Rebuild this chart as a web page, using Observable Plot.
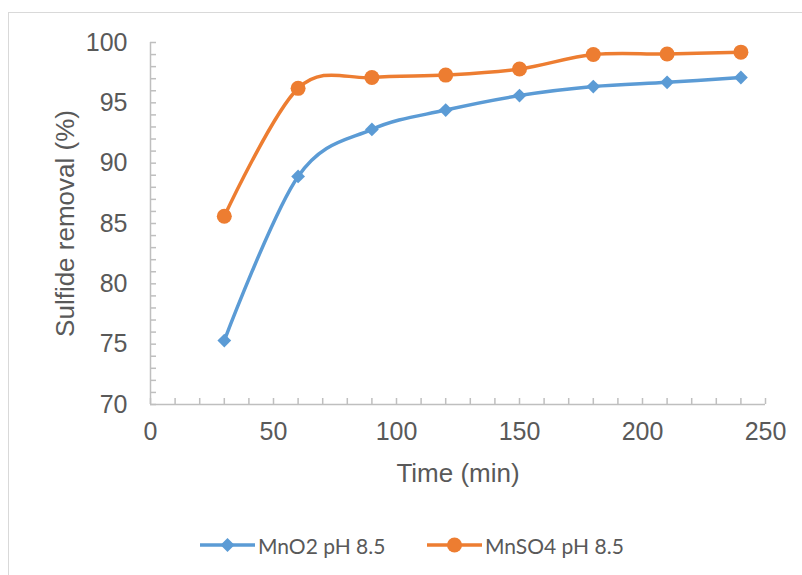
<!DOCTYPE html>
<html>
<head>
<meta charset="utf-8">
<script src="https://cdn.jsdelivr.net/npm/d3@7"></script>
<script src="https://cdn.jsdelivr.net/npm/@observablehq/plot@0.6"></script>
<style>
  html, body { margin: 0; padding: 0; background: #fff; }
  #wrap { position: relative; width: 802px; height: 575px; overflow: hidden; }
  #frame { position: absolute; left: 8px; top: 12px; width: 800px; height: 600px; border: 1.5px solid #d9d9d9; box-sizing: border-box; }
  #chart { position: absolute; left: 0; top: 0; }
  #legend { position: absolute; left: 0; top: 532px; width: 802px; height: 26px; }
  .item { position: absolute; top: 0; height: 26px; display: flex; align-items: center; font-family: Lato, "Liberation Sans", sans-serif; font-size: 21px; color: #595959; }
  .item svg { display: block; margin-right: 2px; }
</style>
</head>
<body>
<div id="wrap">
  <div id="frame"></div>
  <div id="chart"></div>
  <div id="legend"></div>
</div>
<script>
const time = [30, 60, 90, 120, 150, 180, 210, 240];
const mno2 = [75.3, 88.9, 92.8, 94.4, 95.6, 96.35, 96.7, 97.1];
const mnso4 = [85.6, 96.2, 97.1, 97.3, 97.8, 99.0, 99.05, 99.2];
const seriesNames = ["MnO2 pH 8.5", "MnSO4 pH 8.5"];
const seriesColors = ["#5B9BD5", "#ED7D31"];
const xMajor = [0, 50, 100, 150, 200, 250];
const yMajor = [70, 75, 80, 85, 90, 95, 100];
const xMinor = d3.range(0, 251, 10);
const yMinor = d3.range(70, 101, 1);
const xTitle = "Time (min)";
const yTitle = "Sulfide removal (%)";

const rows1 = time.map((t, i) => ({t, v: mno2[i]}));
const rows2 = time.map((t, i) => ({t, v: mnso4[i]}));

const axisColor = "#bfbfbf";
const textColor = "#595959";

const chart = Plot.plot({
  width: 802,
  height: 520,
  marginLeft: 150,
  marginRight: 37,
  marginTop: 42,
  marginBottom: 116,
  style: {fontFamily: "'Liberation Sans', Arial, sans-serif", background: "transparent", color: textColor},
  x: {domain: [0, 250]},
  y: {domain: [70, 100]},
  marks: [
    Plot.axisY(yMinor, {tickSize: -6, fill: "none", stroke: axisColor, label: null, strokeWidth: 1.5}),
    Plot.axisX(xMinor, {tickSize: -6, fill: "none", stroke: axisColor, label: null, strokeWidth: 1.5}),
    Plot.axisY(yMajor, {tickSize: 0, tickPadding: 23, fontSize: 25, fill: textColor, label: null}),
    Plot.axisX(xMajor, {tickSize: 0, tickPadding: 18, fontSize: 25, fill: textColor, label: null}),
    Plot.ruleX([0], {stroke: axisColor, strokeWidth: 1.5}),
    Plot.ruleY([70], {stroke: axisColor, strokeWidth: 1.5}),
    Plot.text([yTitle], {frameAnchor: "left", textAnchor: "middle", lineAnchor: "middle", rotate: -90, dx: -85, fontSize: 26, fill: textColor}),
    Plot.text([xTitle], {frameAnchor: "bottom", textAnchor: "middle", lineAnchor: "middle", dy: 69, fontSize: 26, fill: textColor}),
    Plot.line(rows1, {x: "t", y: "v", stroke: seriesColors[0], strokeWidth: 3.5, curve: "cardinal"}),
    Plot.line(rows2, {x: "t", y: "v", stroke: seriesColors[1], strokeWidth: 3.5, curve: "cardinal"}),
    Plot.dot(rows1, {x: "t", y: "v", symbol: "diamond2", r: 6.2, fill: seriesColors[0], stroke: null}),
    Plot.dot(rows2, {x: "t", y: "v", symbol: "circle", r: 7.5, fill: seriesColors[1], stroke: null})
  ]
});
document.getElementById("chart").appendChild(chart);

// legend
const legend = document.getElementById("legend");
const legendX = [199, 426];
seriesNames.forEach((name, i) => {
  const item = document.createElement("div");
  item.className = "item";
  item.style.left = legendX[i] + "px";
  const s = d3.create("svg").attr("width", 57).attr("height", 26);
  s.append("line").attr("x1", 1).attr("x2", 56).attr("y1", 13).attr("y2", 13)
    .attr("stroke", seriesColors[i]).attr("stroke-width", 3.5);
  if (i === 0) {
    s.append("path").attr("d", "M28.5,6 L35.5,13 L28.5,20 L21.5,13 Z").attr("fill", seriesColors[i]);
  } else {
    s.append("circle").attr("cx", 28.5).attr("cy", 13).attr("r", 7.5).attr("fill", seriesColors[i]);
  }
  item.appendChild(s.node());
  const span = document.createElement("span");
  span.textContent = name;
  item.appendChild(span);
  legend.appendChild(item);
});
</script>
</body>
</html>
